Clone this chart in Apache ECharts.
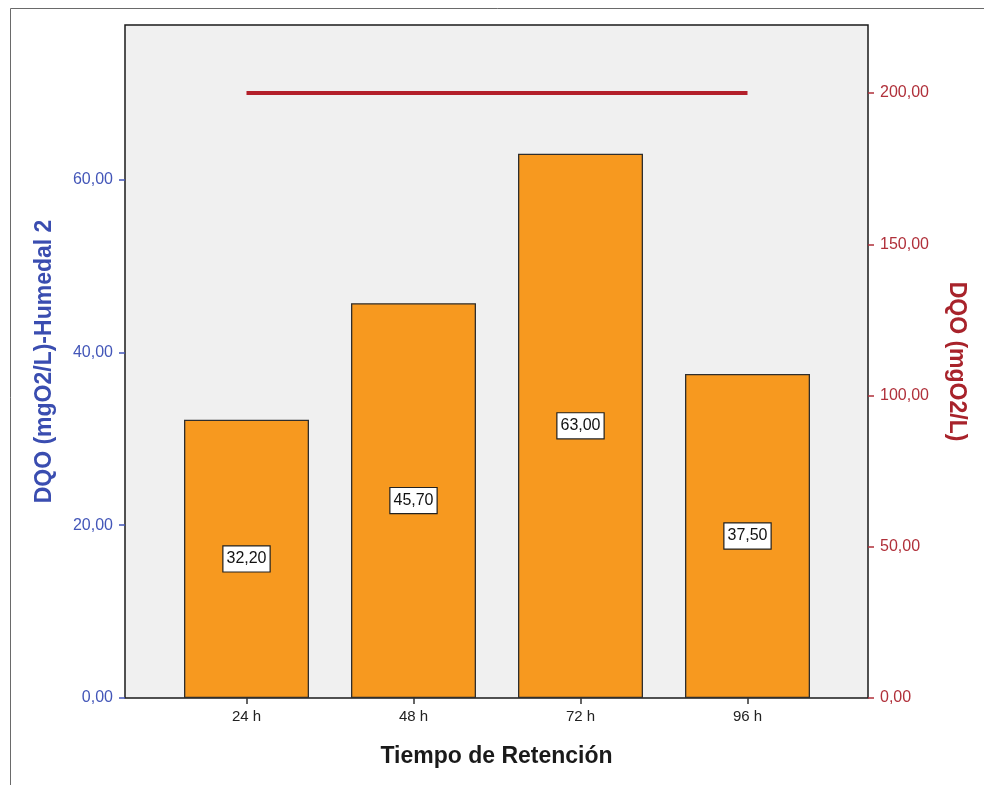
<!DOCTYPE html>
<html>
<head>
<meta charset="utf-8">
<script src="https://cdn.jsdelivr.net/npm/echarts@6/dist/echarts.min.js"></script>
<style>
  html, body { margin: 0; padding: 0; background: #ffffff; }
  #chart { width: 984px; height: 785px; }
</style>
</head>
<body>
<div id="chart"></div>
<script>
// Tiempo de retención y DQO por humedal
const categories = ['24 h', '48 h', '72 h', '96 h'];
const dqoHumedal2 = [32.2, 45.7, 63.0, 37.5];
const dqoReferencia = [200, 200, 200, 200];
const leftTicks = [0, 20, 40, 60];
const rightTicks = [0, 50, 100, 150, 200];

const FONT = "'Liberation Sans', Arial, sans-serif";
const BLUE = '#4356b8';
const RED = '#b0303a';
const fmt = v => Number(v).toFixed(2).replace('.', ',');

const LEFT_MAX = 77.9;
const RIGHT_MAX = 222.5;

const chart = echarts.init(document.getElementById('chart'), null, { renderer: 'canvas' });

chart.setOption({
  backgroundColor: '#ffffff',
  animation: false,
  graphic: [{
    type: 'rect',
    shape: { x: 10.5, y: 8.5, width: 1200, height: 1200 },
    style: { fill: 'none', stroke: '#6a6a6a', lineWidth: 1 },
    silent: true
  }],
  grid: [
    // frame with background and the two visible value axes
    { left: 125, top: 25, width: 743, height: 673, show: true,
      backgroundColor: '#f0f0f0', borderColor: '#1a1a1a', borderWidth: 1.5 },
    // inner band where the categories sit
    { left: 163, top: 25, width: 668, height: 673, show: false }
  ],
  xAxis: [
    { gridIndex: 0, type: 'category', data: [''],
      axisLine: { show: false }, axisTick: { show: false }, axisLabel: { show: false },
      name: 'Tiempo de Retención', nameLocation: 'middle', nameGap: 47,
      nameTextStyle: { fontFamily: FONT, fontSize: 23, fontWeight: 'bold', color: '#1a1a1a' } },
    { gridIndex: 1, type: 'category', data: categories, boundaryGap: true,
      axisLine: { show: false },
      axisTick: { show: true, alignWithLabel: true, length: 6, lineStyle: { color: '#333', width: 1.5 } },
      axisLabel: { fontFamily: FONT, fontSize: 15, color: '#222', margin: 11 } }
  ],
  yAxis: [
    { gridIndex: 0, type: 'value', position: 'left', min: 0, max: LEFT_MAX,
      axisLine: { show: false }, splitLine: { show: false },
      axisTick: { show: true, length: 6, customValues: leftTicks, lineStyle: { color: BLUE, width: 1.5 } },
      axisLabel: { fontFamily: FONT, fontSize: 16, color: BLUE, margin: 12,
        customValues: leftTicks, formatter: v => fmt(v) },
      name: 'DQO (mgO2/L)-Humedal 2', nameLocation: 'middle', nameGap: 69, nameRotate: 90,
      nameTextStyle: { fontFamily: FONT, fontSize: 23, fontWeight: 'bold', color: '#3a4db0' } },
    { gridIndex: 0, type: 'value', position: 'right', min: 0, max: RIGHT_MAX,
      axisLine: { show: false }, splitLine: { show: false },
      axisTick: { show: true, length: 6, customValues: rightTicks, lineStyle: { color: RED, width: 1.5 } },
      axisLabel: { fontFamily: FONT, fontSize: 16, color: RED, margin: 12,
        customValues: rightTicks, formatter: v => fmt(v) },
      name: 'DQO (mgO2/L)', nameLocation: 'middle', nameGap: 77, nameRotate: -90,
      nameTextStyle: { fontFamily: FONT, fontSize: 23, fontWeight: 'bold', color: '#a8232b' } },
    { gridIndex: 1, type: 'value', position: 'left', min: 0, max: LEFT_MAX, show: false },
    { gridIndex: 1, type: 'value', position: 'right', min: 0, max: RIGHT_MAX, show: false }
  ],
  series: [
    { type: 'bar', xAxisIndex: 1, yAxisIndex: 2, data: dqoHumedal2, barWidth: 125,
      itemStyle: { color: '#f7991f', borderColor: '#2e2e2e', borderWidth: 1.3 },
      label: { show: true, position: 'inside', formatter: p => fmt(p.value),
        fontFamily: FONT, fontSize: 16, color: '#111',
        backgroundColor: '#ffffff', borderColor: '#222', borderWidth: 1.2,
        padding: [5, 3, 4, 3] } },
    { type: 'line', xAxisIndex: 1, yAxisIndex: 3, data: dqoReferencia, z: 5,
      symbol: 'none', lineStyle: { color: '#b31f2a', width: 4 } }
  ]
});
</script>
</body>
</html>
